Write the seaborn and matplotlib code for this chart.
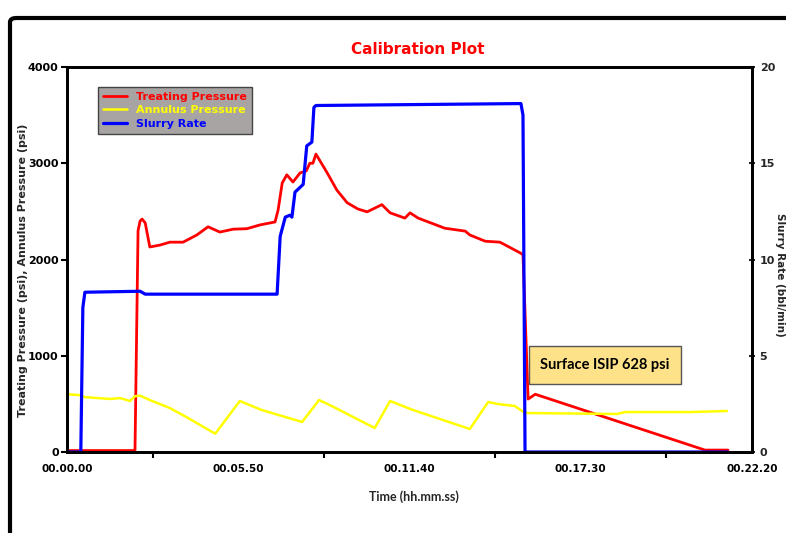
import matplotlib
matplotlib.use("Agg")
import matplotlib.pyplot as plt
import matplotlib.patches as mpatches
import numpy as np
import pandas as pd
import seaborn as sns

# time in seconds from start of job
rate_time = [0, 27, 31, 35, 143, 153, 411, 417, 427, 436, 440, 446, 462, 469, 479,
             483, 487, 888, 892, 896, 1293]
slurry_rate = [0, 0, 7.5, 8.3, 8.35, 8.2, 8.2, 11.2, 12.2, 12.3, 12.2, 13.5, 13.9,
               15.9, 16.1, 17.9, 18.0, 18.1, 17.5, 0, 0]

treat_time = [0, 133, 139, 143, 147, 153, 162, 182, 201, 227, 254, 276, 299, 325, 352,
              378, 407, 413, 421, 430, 442, 456, 468, 475, 481, 487, 509, 528, 548, 569,
              587, 616, 632, 661, 671, 687, 739, 779, 788, 818, 847, 886, 892, 902, 916,
              1248, 1293]
treating_pressure = [15, 15, 2300, 2400, 2420, 2380, 2130, 2150, 2180, 2180, 2255, 2340,
                     2285, 2315, 2320, 2360, 2390, 2515, 2795, 2880, 2805, 2900, 2920, 3000,
                     3000, 3095, 2900, 2720, 2590, 2525, 2495, 2570, 2485, 2430, 2485, 2430,
                     2325, 2295, 2255, 2190, 2180, 2070, 2050, 550, 600, 20, 20]

ann_time = [0, 23, 35, 84, 104, 123, 133, 143, 162, 201, 237, 290, 338, 381, 460, 493,
            514, 602, 632, 677, 788, 824, 841, 876, 896, 1076, 1092, 1219, 1291]
annulus_pressure = [600, 592, 570, 551, 560, 530, 580, 585, 540, 457, 353, 190, 530, 436,
                    312, 540, 488, 249, 530, 436, 239, 520, 500, 478, 405, 395, 415, 415, 426]

x_tick_labels = ["00.00.00", "00.05.50", "00.11.40", "00.17.30", "00.22.20"]
x_end = 1340

treat = pd.DataFrame({"time": treat_time, "psi": treating_pressure})
annulus = pd.DataFrame({"time": ann_time, "psi": annulus_pressure})
rate = pd.DataFrame({"time": rate_time, "bpm": slurry_rate})

sns.set_theme(style="white")
plt.rcParams["font.family"] = ["DejaVu Sans"]

fig = plt.figure(figsize=(7.86, 5.33), dpi=100)
ax = fig.add_axes([67 / 786, 1 - 452 / 533, 685 / 786, 385 / 533])
ax2 = ax.twinx()

sns.lineplot(data=treat, x="time", y="psi", ax=ax, color="#ff0000", lw=2,
             estimator=None, sort=False, label="Treating Pressure", legend=False)
sns.lineplot(data=annulus, x="time", y="psi", ax=ax, color="#ffff00", lw=1.8,
             estimator=None, sort=False, label="Annulus Pressure", legend=False)
sns.lineplot(data=rate, x="time", y="bpm", ax=ax2, color="#0000ff", lw=2.3,
             estimator=None, sort=False, label="Slurry Rate", legend=False)

ax.set_xlim(0, x_end)
ax.set_ylim(0, 4000)
ax2.set_ylim(0, 20)
ax.set_yticks([0, 1000, 2000, 3000, 4000])
ax2.set_yticks([0, 5, 10, 15, 20])
major = np.linspace(0, x_end, len(x_tick_labels))
ax.set_xticks(major)
ax.set_xticklabels(x_tick_labels)
ax.set_xticks((major[:-1] + major[1:]) / 2, minor=True)

for a in (ax, ax2):
    for s in a.spines.values():
        s.set_color("black")
        s.set_linewidth(2)
ax.tick_params(axis="both", which="both", direction="out", length=4, width=1.5,
               labelsize=8, colors="black", pad=2)
ax.tick_params(axis="x", which="minor", length=4, bottom=True)
ax.tick_params(axis="x", labelsize=7.5, pad=5)
ax2.tick_params(axis="y", direction="inout", length=5, width=1.5, labelsize=8, pad=3)
for lab in ax.get_xticklabels() + ax.get_yticklabels() + ax2.get_yticklabels():
    lab.set_fontweight("bold")

ax.set_xlabel("Time (hh.mm.ss)", fontsize=9, fontweight="bold",
              family=["Lato", "DejaVu Sans"])
ax.xaxis.set_label_coords((414 - 67) / 685, -(490 - 452) / 385)
ax.set_ylabel("Treating Pressure (psi), Annulus Pressure (psi)", fontsize=8,
              fontweight="bold")
ax.yaxis.set_label_coords((28 - 67) / 685, (452 - 270) / 385)
ax2.set_ylabel("Slurry Rate (bbl/min)", fontsize=7.5, fontweight="bold", rotation=270,
               va="center")
ax2.yaxis.set_label_coords((780 - 67) / 685, (452 - 275) / 385)

fig.text(418 / 786, 1 - 50 / 533, "Calibration Plot", color="#ff0000", fontsize=11,
         fontweight="bold", ha="center", va="center")

handles = ax.get_lines()[:2] + ax2.get_lines()[:1]
leg = ax2.legend(handles, [h.get_label() for h in handles], loc="upper left",
                 bbox_to_anchor=((98 - 67) / 685, (452 - 87) / 385), borderaxespad=0,
                 fancybox=False, facecolor="#a8a4a4", edgecolor="#444444", framealpha=1,
                 prop={"size": 8, "weight": "bold"}, labelcolor="linecolor",
                 handlelength=2.2, handletextpad=0.8, borderpad=0.45, labelspacing=0.3)
leg.get_frame().set_linewidth(1)

ax2.text((605 - 67) / 685, (452 - 365) / 385, "Surface ISIP 628 psi",
         transform=ax2.transAxes, ha="center", va="center", fontsize=10.5,
         fontweight="bold", family=["Lato", "DejaVu Sans"], color="black",
         bbox=dict(boxstyle="square,pad=0.8", facecolor="#fde28a", edgecolor="#555555",
                   lw=1))

border = mpatches.FancyBboxPatch((10 / 786, -0.2), 1.2, 1.2 - 18 / 533,
                                 boxstyle="round,pad=0,rounding_size=0.008",
                                 transform=fig.transFigure, fill=False,
                                 edgecolor="black", lw=3, clip_on=False)
fig.patches.append(border)

fig.savefig("out.png", dpi=100)
